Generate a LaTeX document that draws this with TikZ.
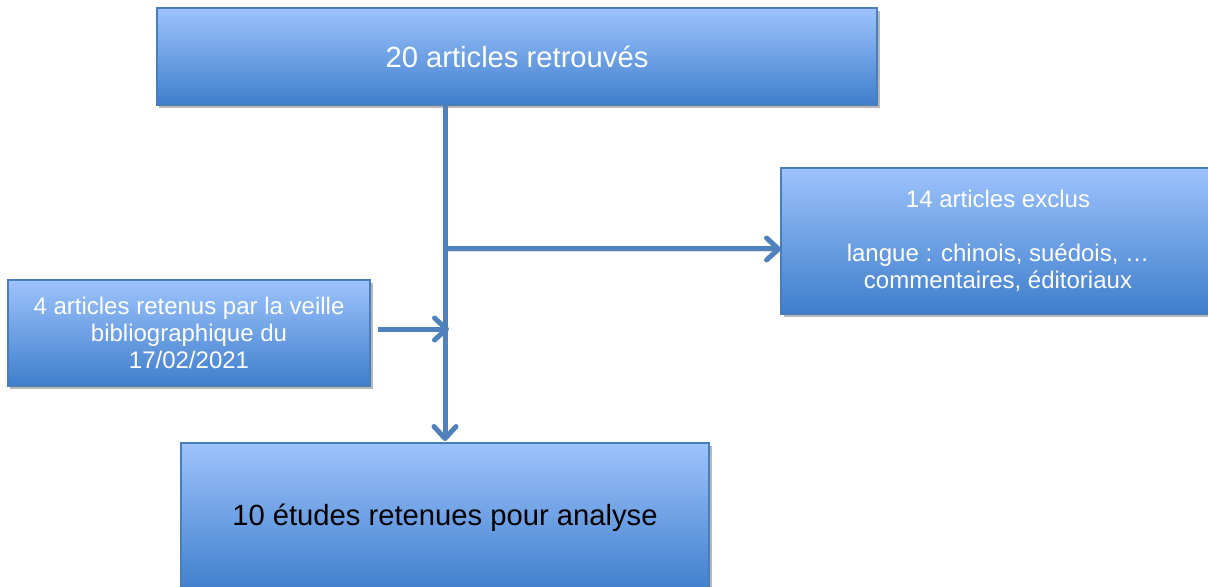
\documentclass[tikz,border=0pt]{standalone}
\usepackage{fontspec}
\setmainfont{Liberation Sans}
\usetikzlibrary{arrows.meta,shadows}

\definecolor{boxtop}{HTML}{9DC3FC}
\definecolor{boxmid}{HTML}{84ABEA}
\definecolor{boxbot}{HTML}{3F7ECC}
\definecolor{boxline}{HTML}{4A7EBB}
\definecolor{flowblue}{HTML}{4F81BD}

\tikzset{
  stagebox/.style={
    rectangle, draw=boxline, line width=1.6bp,
    top color=boxtop, middle color=boxmid, bottom color=boxbot,
    inner sep=0pt, outer sep=0pt, align=center,
    drop shadow={shadow xshift=2.5bp, shadow yshift=-3bp, fill=black, opacity=0.28}
  },
  bigtext/.style={font=\fontsize{29.2bp}{33bp}\selectfont},
  smalltext/.style={font=\fontsize{24bp}{26.8bp}\selectfont},
  flow/.style={
    draw=flowblue, line width=5bp,
    -{Straight Barb[length=12bp,width=22bp,round]},
    preaction={draw=black, opacity=0.12, transform canvas={shift={(1.5bp,-2bp)}}}
  }
}

\begin{document}
\begin{tikzpicture}[x=1bp,y=-1bp]
  \useasboundingbox (0,0) rectangle (1208,587);
  \clip (0,0) rectangle (1208,587);

  % stages of the selection
  \node[stagebox, bigtext, text=white, minimum width=720bp, minimum height=97bp]
    (found) at (517,56.5) {20 articles retrouvés};
  \node[stagebox, smalltext, text=white, minimum width=434bp, minimum height=146bp]
    (excluded) at (998,241) {14 articles exclus\\[27bp]langue : chinois, suédois, …\\commentaires, éditoriaux};
  \node[stagebox, smalltext, text=white, minimum width=362bp, minimum height=106bp]
    (watch) at (189,333) {4 articles retenus par la veille\\bibliographique du\\17/02/2021};
  \node[stagebox, bigtext, text=black, minimum width=528bp, minimum height=150bp]
    (kept) at (445,518) {10 études retenues pour analyse};

  % junctions on the main trunk
  \coordinate (split) at (445,249);
  \coordinate (merge) at (449,329);

  % connectors
  \draw[flow, shorten >=2bp] (found.south -| kept.north) -- (kept.north);
  \draw[flow] (split) -- (split -| excluded.west);
  \draw[flow] ([xshift=8bp]watch.east |- merge) -- (merge);
\end{tikzpicture}
\end{document}
